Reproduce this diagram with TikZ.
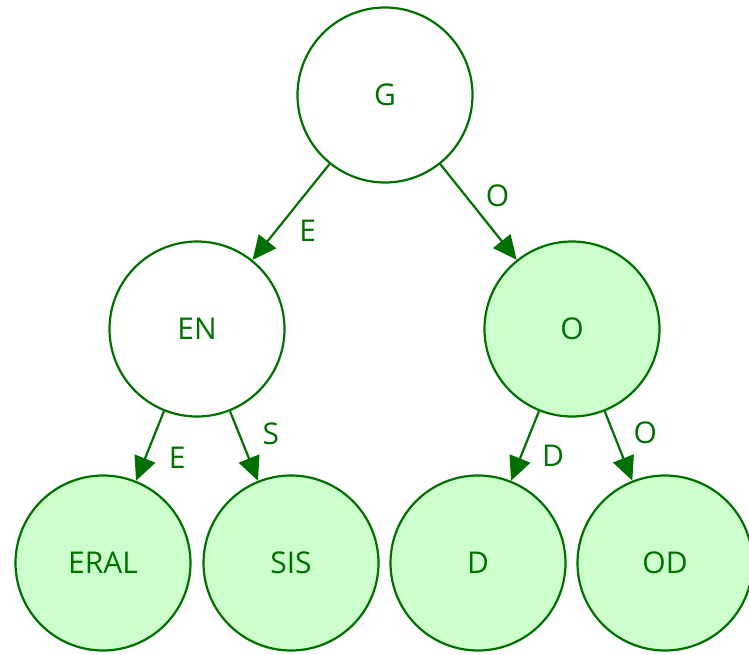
\documentclass[tikz,border=0pt]{standalone}
\usepackage{fontspec}
\setmainfont{Open Sans}
\usetikzlibrary{arrows.meta}
\definecolor{colorLine}{HTML}{007000}
\definecolor{colorLeaf}{HTML}{CCFFCC}
\tikzset{
  every trie node/.style={
    draw=colorLine,line width=2.2pt,circle,minimum size=175pt,inner sep=0pt,
    text=colorLine,font=\fontsize{30}{35}\selectfont,
  },
  inner trie node/.style={every trie node,fill=white},
  leaf trie node/.style={every trie node,fill=colorLeaf},
  trie edge/.style={
    draw=colorLine,line width=2.2pt,-{Triangle[length=24pt,width=22pt]},
  },
  edge letter/.style={text=colorLine,font=\fontsize{30}{35}\selectfont,xshift=32pt},
}

\begin{document}
\begin{tikzpicture}[x=1pt,y=-1pt]
   \useasboundingbox (0,0) rectangle (749,655);

   % NODES
   \node[inner trie node] (g) at (385, 95) {G}; % root
   \node[inner trie node] (en) at (197, 329) {EN};
   \node[leaf trie node] (o) at (572, 329) {O};
   \node[leaf trie node] (eral) at (103, 563) {ERAL}; % leaf
   \node[leaf trie node] (sis) at (291, 563) {SIS}; % leaf
   \node[leaf trie node] (d) at (478, 563) {D}; % leaf
   \node[leaf trie node] (od) at (665, 563) {OD}; % leaf

   % DRAW TREE
   \path[trie edge] (g)--(en) node[edge letter,pos=0.7] {E};
   \path[trie edge] (g)--(o) node[edge letter,pos=0.33] {O};
   \path[trie edge] (en)--(eral) node[edge letter,pos=0.67] {E};
   \path[trie edge] (en)--(sis) node[edge letter,pos=0.32] {S};
   \path[trie edge] (o)--(d) node[edge letter,pos=0.64] {D};
   \path[trie edge] (o)--(od) node[edge letter,pos=0.31] {O};

\end{tikzpicture}
\end{document}
